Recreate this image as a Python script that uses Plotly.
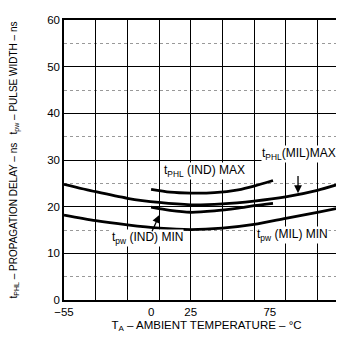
import plotly.graph_objects as go

# ---- data ----
temp_mil = [-55, -35, -15, 5, 25, 45, 65, 85, 105, 125]
tphl_mil_max = [24.8, 23.2, 21.8, 20.9, 20.4, 20.6, 21.2, 22.1, 23.5, 25.5]
tpw_mil_min = [18.2, 17.0, 16.1, 15.4, 15.1, 15.4, 16.2, 17.5, 18.8, 20.1]

temp_ind = [0, 12, 25, 40, 55, 65, 77]
tphl_ind_max = [23.7, 23.1, 22.9, 23.0, 23.6, 24.4, 25.6]
tpw_ind_min = [19.9, 19.2, 18.8, 19.1, 19.7, 20.2, 20.7]

x_tick_vals = [-55, 0, 25, 75, 125]
x_tick_text = ["\u221255", "0", "25", "75", "125"]
y_tick_vals = [0, 10, 20, 30, 40, 50, 60]

FONT = "Liberation Sans, Arial, sans-serif"

fig = go.Figure()
for xs, ys in [(temp_mil, tphl_mil_max), (temp_mil, tpw_mil_min),
               (temp_ind, tphl_ind_max), (temp_ind, tpw_ind_min)]:
    fig.add_trace(go.Scatter(x=xs, y=ys, mode="lines",
                             line=dict(color="black", width=2.8, shape="spline", smoothing=0.8),
                             showlegend=False, hoverinfo="skip"))
# invisible trace on the grid axis so it is drawn
fig.add_trace(go.Scatter(x=[temp_mil[0]], y=[tphl_mil_max[0]], xaxis="x2", mode="lines",
                         showlegend=False, hoverinfo="skip", line=dict(width=0)))

labels = [
    ("t<sub>PHL</sub> (IND) MAX", 33.5, 27.7),
    ("t<sub>PHL</sub>(MIL)MAX", 93.5, 31.3),
    ("t<sub>pw</sub> (IND) MIN", -2.5, 13.3),
    ("t<sub>pw</sub> (MIL) MIN", 89.5, 14.0),
]
for txt, x, y in labels:
    fig.add_annotation(x=x, y=y, text=txt, showarrow=False,
                       font=dict(family=FONT, size=12, color="black"),
                       bgcolor="white", borderpad=0)

# arrows
fig.add_annotation(x=92.8, y=22.9, ax=92.8, ay=26.9, axref="x", ayref="y",
                   text="", showarrow=True, arrowhead=2, arrowsize=1.2,
                   arrowwidth=1.3, arrowcolor="black")
fig.add_annotation(x=5.2, y=18.2, ax=0.2, ay=14.4, axref="x", ayref="y",
                   text="", showarrow=True, arrowhead=2, arrowsize=1.2,
                   arrowwidth=1.3, arrowcolor="black")

fig.update_layout(
    xaxis=dict(range=[-55, 125], tickmode="array", tickvals=x_tick_vals,
               ticktext=x_tick_text, showgrid=False, zeroline=False,
               showline=True, linecolor="black", linewidth=1.5, mirror=True,
               ticks="",
               tickfont=dict(family=FONT, size=11.5, color="black"),
               title=dict(text="T<sub>A</sub> \u2013 AMBIENT TEMPERATURE \u2013 \u00b0C",
                          font=dict(family=FONT, size=11.5, color="black"), standoff=4)),
    xaxis2=dict(range=[-55, 125], overlaying="x", tickmode="linear", tick0=-55, dtick=20,
                showgrid=True, gridcolor="black", gridwidth=1.2, showticklabels=False,
                ticks="", zeroline=False, showline=False),
    yaxis=dict(range=[0, 60], tickmode="array", tickvals=y_tick_vals,
               showgrid=True, gridcolor="black", gridwidth=1.1, zeroline=False,
               showline=True, linecolor="black", linewidth=1.5, mirror=True,
               ticks="",
               tickfont=dict(family=FONT, size=11.5, color="black"),
               minor=dict(tickmode="linear", tick0=0, dtick=5, showgrid=True,
                          gridcolor="#999999", gridwidth=1, griddash="dot", ticks=""),
               title=dict(text="t<sub>PHL</sub> \u2013 PROPAGATION DELAY \u2013 ns   t<sub>pw</sub> \u2013 PULSE WIDTH \u2013 ns",
                          font=dict(family=FONT, size=10, color="black"), standoff=31)),
    width=344, height=338, margin=dict(l=55, r=1, t=12, b=46),
    plot_bgcolor="white", paper_bgcolor="white")
fig.write_html("out.html")
